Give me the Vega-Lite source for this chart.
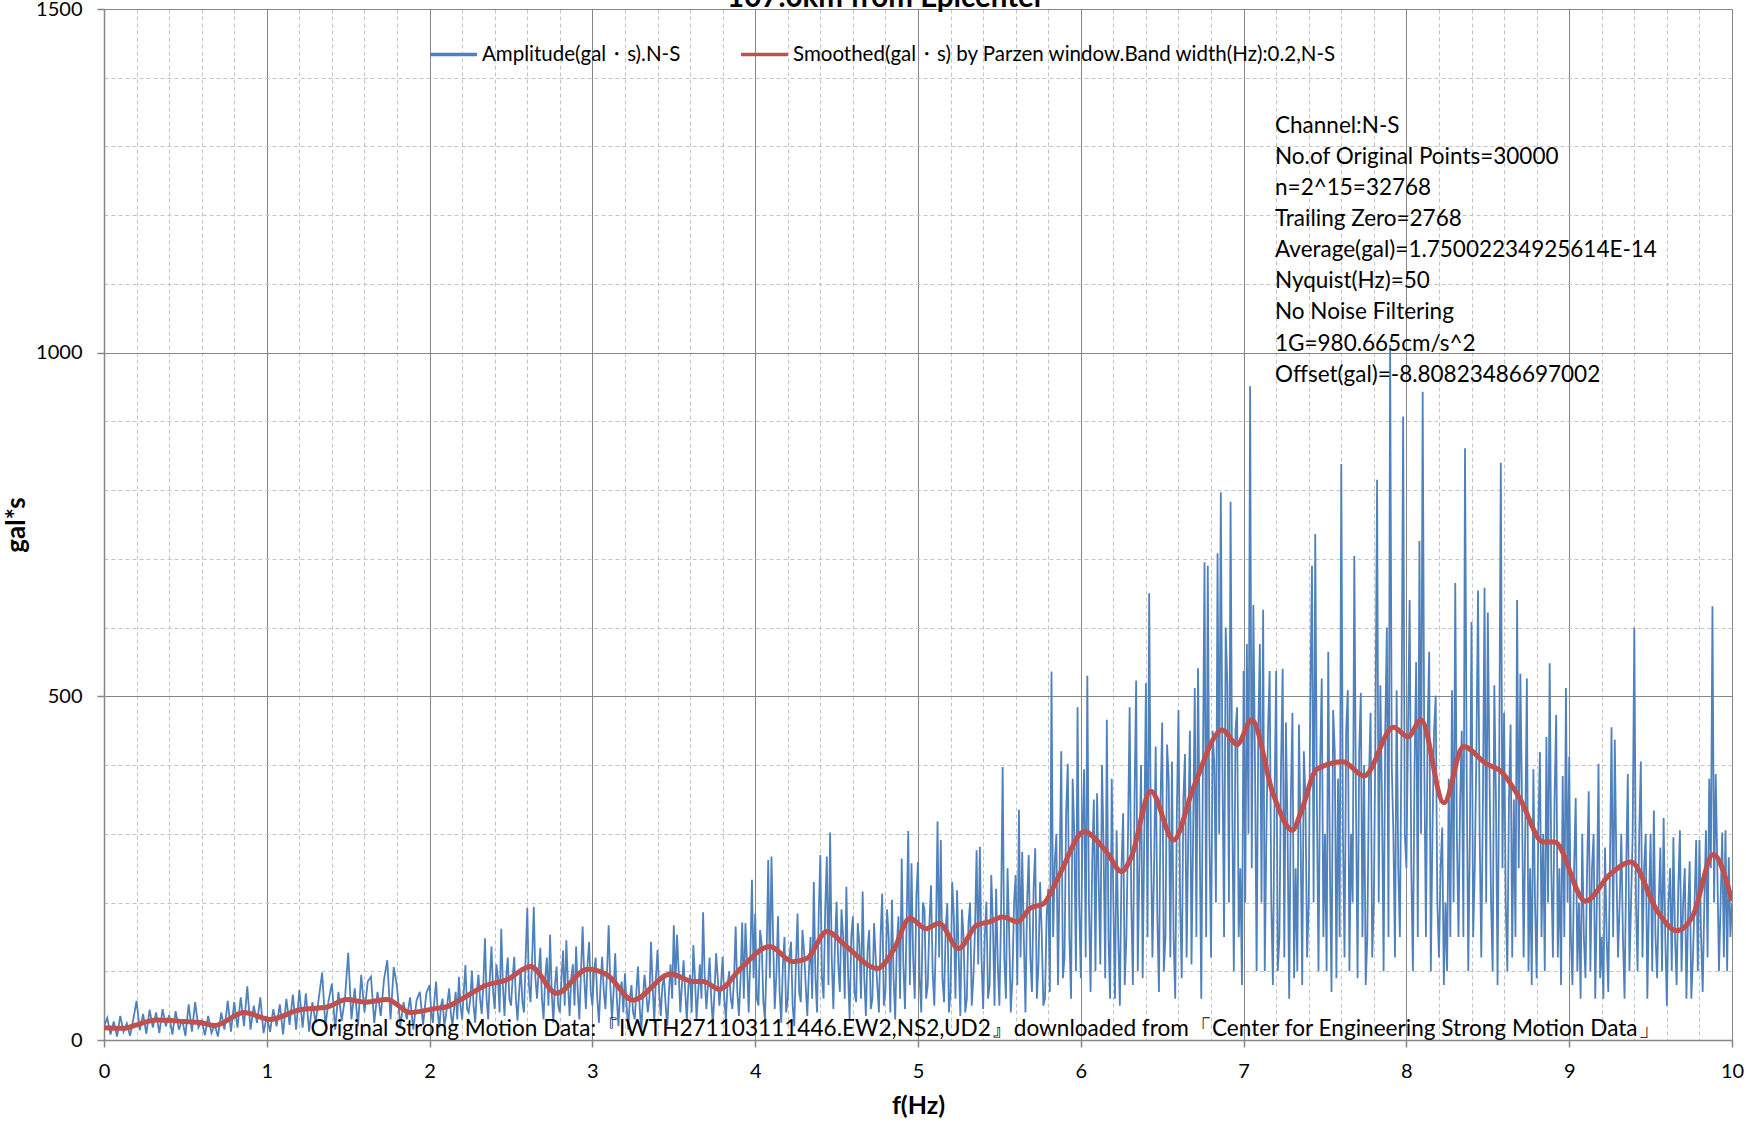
{
"$schema": "https://vega.github.io/schema/vega-lite/v6.json",
"width": 1628, "height": 1031,
"autosize": {"type": "none"},
"padding": {"left": 104, "top": 9, "right": 14, "bottom": 84},
"background": "white",
"config": {"view": {"stroke": "#868686", "strokeWidth": 1}, "font": "Lato"},
"datasets": {
"amp": [
{"f":0,"a":20},{"f":0.02,"a":32},{"f":0.04,"a":8},{"f":0.06,"a":27},{"f":0.08,"a":5},{"f":0.1,"a":35},{"f":0.12,"a":12},{"f":0.14,"a":24},{"f":0.16,"a":6},{"f":0.18,"a":30},
{"f":0.2,"a":57},{"f":0.22,"a":14},{"f":0.24,"a":38},{"f":0.26,"a":9},{"f":0.28,"a":44},{"f":0.3,"a":18},{"f":0.32,"a":40},{"f":0.34,"a":10},{"f":0.36,"a":45},{"f":0.38,"a":20},
{"f":0.4,"a":36},{"f":0.42,"a":8},{"f":0.44,"a":42},{"f":0.46,"a":15},{"f":0.48,"a":30},{"f":0.5,"a":6},{"f":0.52,"a":52},{"f":0.54,"a":12},{"f":0.56,"a":55},{"f":0.58,"a":18},
{"f":0.6,"a":28},{"f":0.62,"a":7},{"f":0.64,"a":35},{"f":0.66,"a":10},{"f":0.68,"a":22},{"f":0.7,"a":5},{"f":0.72,"a":40},{"f":0.74,"a":15},{"f":0.76,"a":57},{"f":0.78,"a":12},
{"f":0.8,"a":55},{"f":0.82,"a":18},{"f":0.84,"a":62},{"f":0.86,"a":20},{"f":0.88,"a":78},{"f":0.9,"a":15},{"f":0.92,"a":50},{"f":0.94,"a":25},{"f":0.96,"a":62},{"f":0.98,"a":10},
{"f":1,"a":35},{"f":1.02,"a":12},{"f":1.04,"a":45},{"f":1.06,"a":20},{"f":1.08,"a":52},{"f":1.1,"a":8},{"f":1.12,"a":60},{"f":1.14,"a":22},{"f":1.16,"a":66},{"f":1.18,"a":15},
{"f":1.2,"a":73},{"f":1.22,"a":18},{"f":1.24,"a":68},{"f":1.26,"a":12},{"f":1.28,"a":55},{"f":1.3,"a":25},{"f":1.32,"a":62},{"f":1.34,"a":98},{"f":1.36,"a":20},{"f":1.38,"a":58},
{"f":1.4,"a":82},{"f":1.42,"a":15},{"f":1.44,"a":70},{"f":1.46,"a":28},{"f":1.48,"a":60},{"f":1.5,"a":127},{"f":1.52,"a":30},{"f":1.54,"a":75},{"f":1.56,"a":20},{"f":1.58,"a":95},
{"f":1.6,"a":40},{"f":1.62,"a":85},{"f":1.64,"a":92},{"f":1.66,"a":25},{"f":1.68,"a":70},{"f":1.7,"a":35},{"f":1.72,"a":88},{"f":1.74,"a":116},{"f":1.76,"a":30},{"f":1.78,"a":106},
{"f":1.8,"a":77},{"f":1.82,"a":20},{"f":1.84,"a":55},{"f":1.86,"a":30},{"f":1.88,"a":62},{"f":1.9,"a":15},{"f":1.92,"a":58},{"f":1.94,"a":70},{"f":1.96,"a":22},{"f":1.98,"a":68},
{"f":2,"a":80},{"f":2.01,"a":40},{"f":2.02,"a":25},{"f":2.03,"a":60},{"f":2.04,"a":85},{"f":2.05,"a":40},{"f":2.06,"a":18},{"f":2.07,"a":50},{"f":2.08,"a":60},{"f":2.09,"a":20},{"f":2.1,"a":35},{"f":2.11,"a":55},{"f":2.12,"a":75},{"f":2.13,"a":40},{"f":2.14,"a":20},{"f":2.15,"a":45},{"f":2.16,"a":70},{"f":2.17,"a":30},{"f":2.18,"a":92},{"f":2.19,"a":50},
{"f":2.2,"a":30},{"f":2.21,"a":70},{"f":2.22,"a":109},{"f":2.23,"a":45},{"f":2.24,"a":40},{"f":2.25,"a":60},{"f":2.26,"a":101},{"f":2.27,"a":50},{"f":2.28,"a":25},{"f":2.29,"a":70},{"f":2.3,"a":95},{"f":2.31,"a":60},{"f":2.32,"a":38},{"f":2.33,"a":80},{"f":2.34,"a":148},{"f":2.35,"a":60},{"f":2.36,"a":30},{"f":2.37,"a":90},{"f":2.38,"a":136},{"f":2.39,"a":70},
{"f":2.4,"a":45},{"f":2.41,"a":110},{"f":2.42,"a":90},{"f":2.43,"a":40},{"f":2.44,"a":162},{"f":2.45,"a":80},{"f":2.46,"a":35},{"f":2.47,"a":90},{"f":2.48,"a":120},{"f":2.49,"a":60},{"f":2.5,"a":50},{"f":2.51,"a":90},{"f":2.52,"a":121},{"f":2.53,"a":60},{"f":2.54,"a":28},{"f":2.55,"a":70},{"f":2.56,"a":105},{"f":2.57,"a":55},{"f":2.58,"a":40},{"f":2.59,"a":120},
{"f":2.6,"a":192},{"f":2.61,"a":80},{"f":2.62,"a":55},{"f":2.63,"a":120},{"f":2.64,"a":194},{"f":2.65,"a":90},{"f":2.66,"a":60},{"f":2.67,"a":100},{"f":2.68,"a":134},{"f":2.69,"a":60},{"f":2.7,"a":30},{"f":2.71,"a":90},{"f":2.72,"a":120},{"f":2.73,"a":50},{"f":2.74,"a":153},{"f":2.75,"a":70},{"f":2.76,"a":25},{"f":2.77,"a":80},{"f":2.78,"a":107},{"f":2.79,"a":50},
{"f":2.8,"a":40},{"f":2.81,"a":90},{"f":2.82,"a":130},{"f":2.83,"a":50},{"f":2.84,"a":145},{"f":2.85,"a":80},{"f":2.86,"a":35},{"f":2.87,"a":90},{"f":2.88,"a":110},{"f":2.89,"a":50},{"f":2.9,"a":136},{"f":2.91,"a":70},{"f":2.92,"a":30},{"f":2.93,"a":100},{"f":2.94,"a":165},{"f":2.95,"a":90},{"f":2.96,"a":45},{"f":2.97,"a":110},{"f":2.98,"a":143},{"f":2.99,"a":70},
{"f":3,"a":50},{"f":3.01,"a":100},{"f":3.02,"a":120},{"f":3.03,"a":60},{"f":3.04,"a":25},{"f":3.05,"a":80},{"f":3.06,"a":121},{"f":3.07,"a":70},{"f":3.08,"a":45},{"f":3.09,"a":100},{"f":3.1,"a":167},{"f":3.11,"a":80},{"f":3.12,"a":30},{"f":3.13,"a":70},{"f":3.14,"a":126},{"f":3.15,"a":60},{"f":3.16,"a":20},{"f":3.17,"a":70},{"f":3.18,"a":85},{"f":3.19,"a":40},
{"f":3.2,"a":97},{"f":3.21,"a":50},{"f":3.22,"a":15},{"f":3.23,"a":60},{"f":3.24,"a":80},{"f":3.25,"a":40},{"f":3.26,"a":30},{"f":3.27,"a":70},{"f":3.28,"a":107},{"f":3.29,"a":50},{"f":3.3,"a":12},{"f":3.31,"a":60},{"f":3.32,"a":95},{"f":3.33,"a":70},{"f":3.34,"a":40},{"f":3.35,"a":60},{"f":3.36,"a":143},{"f":3.37,"a":80},{"f":3.38,"a":25},{"f":3.39,"a":90},
{"f":3.4,"a":131},{"f":3.41,"a":70},{"f":3.42,"a":35},{"f":3.43,"a":80},{"f":3.44,"a":90},{"f":3.45,"a":50},{"f":3.46,"a":20},{"f":3.47,"a":70},{"f":3.48,"a":110},{"f":3.49,"a":60},{"f":3.5,"a":167},{"f":3.51,"a":80},{"f":3.52,"a":153},{"f":3.53,"a":100},{"f":3.54,"a":40},{"f":3.55,"a":80},{"f":3.56,"a":116},{"f":3.57,"a":70},{"f":3.58,"a":28},{"f":3.59,"a":80},
{"f":3.6,"a":95},{"f":3.61,"a":40},{"f":3.62,"a":138},{"f":3.63,"a":90},{"f":3.64,"a":30},{"f":3.65,"a":70},{"f":3.66,"a":110},{"f":3.67,"a":60},{"f":3.68,"a":186},{"f":3.69,"a":90},{"f":3.7,"a":45},{"f":3.71,"a":80},{"f":3.72,"a":120},{"f":3.73,"a":60},{"f":3.74,"a":22},{"f":3.75,"a":70},{"f":3.76,"a":126},{"f":3.77,"a":90},{"f":3.78,"a":50},{"f":3.79,"a":80},
{"f":3.8,"a":121},{"f":3.81,"a":60},{"f":3.82,"a":30},{"f":3.83,"a":80},{"f":3.84,"a":100},{"f":3.85,"a":60},{"f":3.86,"a":45},{"f":3.87,"a":90},{"f":3.88,"a":165},{"f":3.89,"a":70},{"f":3.9,"a":35},{"f":3.91,"a":90},{"f":3.92,"a":171},{"f":3.93,"a":60},{"f":3.94,"a":170},{"f":3.95,"a":110},{"f":3.96,"a":40},{"f":3.97,"a":120},{"f":3.98,"a":233},{"f":3.99,"a":90},
{"f":4,"a":184},{"f":4.01,"a":60},{"f":4.02,"a":50},{"f":4.03,"a":160},{"f":4.04,"a":140},{"f":4.05,"a":55},{"f":4.06,"a":30},{"f":4.07,"a":120},{"f":4.08,"a":262},{"f":4.09,"a":90},{"f":4.1,"a":267},{"f":4.11,"a":150},{"f":4.12,"a":45},{"f":4.13,"a":95},{"f":4.14,"a":180},{"f":4.15,"a":70},{"f":4.16,"a":25},{"f":4.17,"a":110},{"f":4.18,"a":150},{"f":4.19,"a":40},
{"f":4.2,"a":60},{"f":4.21,"a":120},{"f":4.22,"a":143},{"f":4.23,"a":50},{"f":4.24,"a":20},{"f":4.25,"a":110},{"f":4.26,"a":184},{"f":4.27,"a":70},{"f":4.28,"a":55},{"f":4.29,"a":160},{"f":4.3,"a":130},{"f":4.31,"a":80},{"f":4.32,"a":35},{"f":4.33,"a":100},{"f":4.34,"a":150},{"f":4.35,"a":60},{"f":4.36,"a":230},{"f":4.37,"a":90},{"f":4.38,"a":40},{"f":4.39,"a":180},
{"f":4.4,"a":269},{"f":4.41,"a":90},{"f":4.42,"a":60},{"f":4.43,"a":190},{"f":4.44,"a":267},{"f":4.45,"a":80},{"f":4.46,"a":302},{"f":4.47,"a":120},{"f":4.48,"a":45},{"f":4.49,"a":140},{"f":4.5,"a":201},{"f":4.51,"a":110},{"f":4.52,"a":70},{"f":4.53,"a":190},{"f":4.54,"a":150},{"f":4.55,"a":60},{"f":4.56,"a":223},{"f":4.57,"a":100},{"f":4.58,"a":30},{"f":4.59,"a":150},
{"f":4.6,"a":180},{"f":4.61,"a":70},{"f":4.62,"a":55},{"f":4.63,"a":170},{"f":4.64,"a":140},{"f":4.65,"a":60},{"f":4.66,"a":216},{"f":4.67,"a":90},{"f":4.68,"a":35},{"f":4.69,"a":130},{"f":4.7,"a":160},{"f":4.71,"a":45},{"f":4.72,"a":60},{"f":4.73,"a":170},{"f":4.74,"a":120},{"f":4.75,"a":80},{"f":4.76,"a":40},{"f":4.77,"a":150},{"f":4.78,"a":213},{"f":4.79,"a":50},
{"f":4.8,"a":70},{"f":4.81,"a":190},{"f":4.82,"a":150},{"f":4.83,"a":40},{"f":4.84,"a":204},{"f":4.85,"a":90},{"f":4.86,"a":30},{"f":4.87,"a":140},{"f":4.88,"a":180},{"f":4.89,"a":60},{"f":4.9,"a":264},{"f":4.91,"a":110},{"f":4.92,"a":45},{"f":4.93,"a":170},{"f":4.94,"a":304},{"f":4.95,"a":80},{"f":4.96,"a":257},{"f":4.97,"a":120},{"f":4.98,"a":60},{"f":4.99,"a":210},
{"f":5,"a":259},{"f":5.01,"a":90},{"f":5.02,"a":40},{"f":5.03,"a":200},{"f":5.04,"a":190},{"f":5.05,"a":60},{"f":5.06,"a":80},{"f":5.07,"a":170},{"f":5.08,"a":225},{"f":5.09,"a":100},{"f":5.1,"a":50},{"f":5.11,"a":150},{"f":5.12,"a":318},{"f":5.13,"a":120},{"f":5.14,"a":291},{"f":5.15,"a":90},{"f":5.16,"a":55},{"f":5.17,"a":160},{"f":5.18,"a":199},{"f":5.19,"a":40},
{"f":5.2,"a":70},{"f":5.21,"a":230},{"f":5.22,"a":180},{"f":5.23,"a":60},{"f":5.24,"a":218},{"f":5.25,"a":120},{"f":5.26,"a":35},{"f":5.27,"a":190},{"f":5.28,"a":150},{"f":5.29,"a":40},{"f":5.3,"a":60},{"f":5.31,"a":170},{"f":5.32,"a":200},{"f":5.33,"a":50},{"f":5.34,"a":90},{"f":5.35,"a":160},{"f":5.36,"a":276},{"f":5.37,"a":110},{"f":5.38,"a":281},{"f":5.39,"a":120},
{"f":5.4,"a":45},{"f":5.41,"a":150},{"f":5.42,"a":201},{"f":5.43,"a":60},{"f":5.44,"a":80},{"f":5.45,"a":240},{"f":5.46,"a":170},{"f":5.47,"a":50},{"f":5.48,"a":220},{"f":5.49,"a":110},{"f":5.5,"a":50},{"f":5.51,"a":180},{"f":5.52,"a":397},{"f":5.53,"a":120},{"f":5.54,"a":60},{"f":5.55,"a":250},{"f":5.56,"a":155},{"f":5.57,"a":40},{"f":5.58,"a":90},{"f":5.59,"a":200},
{"f":5.6,"a":240},{"f":5.61,"a":80},{"f":5.62,"a":335},{"f":5.63,"a":120},{"f":5.64,"a":274},{"f":5.65,"a":150},{"f":5.66,"a":40},{"f":5.67,"a":200},{"f":5.68,"a":269},{"f":5.69,"a":120},{"f":5.7,"a":70},{"f":5.71,"a":220},{"f":5.72,"a":279},{"f":5.73,"a":60},{"f":5.74,"a":110},{"f":5.75,"a":230},{"f":5.76,"a":155},{"f":5.77,"a":50},{"f":5.78,"a":60},{"f":5.79,"a":180},
{"f":5.8,"a":220},{"f":5.81,"a":70},{"f":5.82,"a":536},{"f":5.83,"a":150},{"f":5.84,"a":257},{"f":5.85,"a":300},{"f":5.86,"a":80},{"f":5.87,"a":250},{"f":5.88,"a":420},{"f":5.89,"a":90},{"f":5.9,"a":120},{"f":5.91,"a":330},{"f":5.92,"a":402},{"f":5.93,"a":150},{"f":5.94,"a":60},{"f":5.95,"a":380},{"f":5.96,"a":300},{"f":5.97,"a":100},{"f":5.98,"a":484},{"f":5.99,"a":200},
{"f":6,"a":90},{"f":6.01,"a":300},{"f":6.02,"a":394},{"f":6.03,"a":120},{"f":6.04,"a":530},{"f":6.05,"a":200},{"f":6.06,"a":70},{"f":6.07,"a":260},{"f":6.08,"a":350},{"f":6.09,"a":100},{"f":6.1,"a":359},{"f":6.11,"a":230},{"f":6.12,"a":110},{"f":6.13,"a":400},{"f":6.14,"a":280},{"f":6.15,"a":90},{"f":6.16,"a":466},{"f":6.17,"a":150},{"f":6.18,"a":60},{"f":6.19,"a":380},
{"f":6.2,"a":200},{"f":6.21,"a":60},{"f":6.22,"a":305},{"f":6.23,"a":150},{"f":6.24,"a":50},{"f":6.25,"a":250},{"f":6.26,"a":330},{"f":6.27,"a":80},{"f":6.28,"a":150},{"f":6.29,"a":300},{"f":6.3,"a":484},{"f":6.31,"a":200},{"f":6.32,"a":80},{"f":6.33,"a":350},{"f":6.34,"a":523},{"f":6.35,"a":100},{"f":6.36,"a":260},{"f":6.37,"a":400},{"f":6.38,"a":90},{"f":6.39,"a":300},
{"f":6.4,"a":519},{"f":6.41,"a":150},{"f":6.42,"a":650},{"f":6.43,"a":300},{"f":6.44,"a":120},{"f":6.45,"a":250},{"f":6.46,"a":427},{"f":6.47,"a":180},{"f":6.48,"a":70},{"f":6.49,"a":350},{"f":6.5,"a":462},{"f":6.51,"a":100},{"f":6.52,"a":150},{"f":6.53,"a":430},{"f":6.54,"a":380},{"f":6.55,"a":120},{"f":6.56,"a":405},{"f":6.57,"a":150},{"f":6.58,"a":60},{"f":6.59,"a":330},
{"f":6.6,"a":480},{"f":6.61,"a":200},{"f":6.62,"a":90},{"f":6.63,"a":350},{"f":6.64,"a":416},{"f":6.65,"a":120},{"f":6.66,"a":300},{"f":6.67,"a":450},{"f":6.68,"a":110},{"f":6.69,"a":300},{"f":6.7,"a":512},{"f":6.71,"a":150},{"f":6.72,"a":541},{"f":6.73,"a":300},{"f":6.74,"a":60},{"f":6.75,"a":400},{"f":6.76,"a":695},{"f":6.77,"a":150},{"f":6.78,"a":690},{"f":6.79,"a":300},
{"f":6.8,"a":120},{"f":6.81,"a":450},{"f":6.82,"a":400},{"f":6.83,"a":200},{"f":6.84,"a":708},{"f":6.85,"a":300},{"f":6.86,"a":797},{"f":6.87,"a":400},{"f":6.88,"a":150},{"f":6.89,"a":600},{"f":6.9,"a":519},{"f":6.91,"a":200},{"f":6.92,"a":783},{"f":6.93,"a":350},{"f":6.94,"a":100},{"f":6.95,"a":450},{"f":6.96,"a":484},{"f":6.97,"a":150},{"f":6.98,"a":250},{"f":6.99,"a":80},
{"f":7,"a":537},{"f":7.01,"a":200},{"f":7.02,"a":576},{"f":7.03,"a":300},{"f":7.04,"a":951},{"f":7.05,"a":250},{"f":7.06,"a":633},{"f":7.07,"a":400},{"f":7.08,"a":100},{"f":7.09,"a":450},{"f":7.1,"a":576},{"f":7.11,"a":200},{"f":7.12,"a":626},{"f":7.13,"a":100},{"f":7.14,"a":300},{"f":7.15,"a":450},{"f":7.16,"a":537},{"f":7.17,"a":200},{"f":7.18,"a":80},{"f":7.19,"a":350},
{"f":7.2,"a":537},{"f":7.21,"a":100},{"f":7.22,"a":150},{"f":7.23,"a":400},{"f":7.24,"a":540},{"f":7.25,"a":120},{"f":7.26,"a":462},{"f":7.27,"a":300},{"f":7.28,"a":60},{"f":7.29,"a":350},{"f":7.3,"a":476},{"f":7.31,"a":90},{"f":7.32,"a":250},{"f":7.33,"a":100},{"f":7.34,"a":459},{"f":7.35,"a":300},{"f":7.36,"a":80},{"f":7.37,"a":420},{"f":7.38,"a":350},{"f":7.39,"a":120},
{"f":7.4,"a":200},{"f":7.41,"a":500},{"f":7.42,"a":690},{"f":7.43,"a":200},{"f":7.44,"a":736},{"f":7.45,"a":350},{"f":7.46,"a":100},{"f":7.47,"a":400},{"f":7.48,"a":526},{"f":7.49,"a":150},{"f":7.5,"a":300},{"f":7.51,"a":100},{"f":7.52,"a":565},{"f":7.53,"a":250},{"f":7.54,"a":70},{"f":7.55,"a":480},{"f":7.56,"a":420},{"f":7.57,"a":90},{"f":7.58,"a":380},{"f":7.59,"a":150},
{"f":7.6,"a":838},{"f":7.61,"a":300},{"f":7.62,"a":120},{"f":7.63,"a":450},{"f":7.64,"a":509},{"f":7.65,"a":100},{"f":7.66,"a":300},{"f":7.67,"a":200},{"f":7.68,"a":704},{"f":7.69,"a":350},{"f":7.7,"a":90},{"f":7.71,"a":420},{"f":7.72,"a":505},{"f":7.73,"a":150},{"f":7.74,"a":400},{"f":7.75,"a":80},{"f":7.76,"a":150},{"f":7.77,"a":380},{"f":7.78,"a":476},{"f":7.79,"a":120},
{"f":7.8,"a":200},{"f":7.81,"a":450},{"f":7.82,"a":815},{"f":7.83,"a":200},{"f":7.84,"a":516},{"f":7.85,"a":350},{"f":7.86,"a":100},{"f":7.87,"a":450},{"f":7.88,"a":600},{"f":7.89,"a":150},{"f":7.9,"a":1011},{"f":7.91,"a":400},{"f":7.92,"a":300},{"f":7.93,"a":120},{"f":7.94,"a":509},{"f":7.95,"a":250},{"f":7.96,"a":150},{"f":7.97,"a":450},{"f":7.98,"a":907},{"f":7.99,"a":300},
{"f":8,"a":250},{"f":8.01,"a":450},{"f":8.02,"a":640},{"f":8.03,"a":250},{"f":8.04,"a":100},{"f":8.05,"a":400},{"f":8.06,"a":550},{"f":8.07,"a":150},{"f":8.08,"a":726},{"f":8.09,"a":300},{"f":8.1,"a":943},{"f":8.11,"a":400},{"f":8.12,"a":150},{"f":8.13,"a":450},{"f":8.14,"a":565},{"f":8.15,"a":100},{"f":8.16,"a":300},{"f":8.17,"a":450},{"f":8.18,"a":501},{"f":8.19,"a":200},
{"f":8.2,"a":120},{"f":8.21,"a":250},{"f":8.22,"a":309},{"f":8.23,"a":80},{"f":8.24,"a":200},{"f":8.25,"a":100},{"f":8.26,"a":380},{"f":8.27,"a":150},{"f":8.28,"a":509},{"f":8.29,"a":200},{"f":8.3,"a":665},{"f":8.31,"a":300},{"f":8.32,"a":150},{"f":8.33,"a":350},{"f":8.34,"a":450},{"f":8.35,"a":150},{"f":8.36,"a":861},{"f":8.37,"a":400},{"f":8.38,"a":100},{"f":8.39,"a":300},
{"f":8.4,"a":608},{"f":8.41,"a":150},{"f":8.42,"a":250},{"f":8.43,"a":420},{"f":8.44,"a":654},{"f":8.45,"a":300},{"f":8.46,"a":120},{"f":8.47,"a":350},{"f":8.48,"a":658},{"f":8.49,"a":200},{"f":8.5,"a":622},{"f":8.51,"a":400},{"f":8.52,"a":200},{"f":8.53,"a":100},{"f":8.54,"a":516},{"f":8.55,"a":350},{"f":8.56,"a":80},{"f":8.57,"a":400},{"f":8.58,"a":840},{"f":8.59,"a":250},
{"f":8.6,"a":476},{"f":8.61,"a":200},{"f":8.62,"a":100},{"f":8.63,"a":350},{"f":8.64,"a":459},{"f":8.65,"a":120},{"f":8.66,"a":350},{"f":8.67,"a":150},{"f":8.68,"a":640},{"f":8.69,"a":250},{"f":8.7,"a":533},{"f":8.71,"a":350},{"f":8.72,"a":120},{"f":8.73,"a":300},{"f":8.74,"a":526},{"f":8.75,"a":100},{"f":8.76,"a":250},{"f":8.77,"a":80},{"f":8.78,"a":394},{"f":8.79,"a":200},
{"f":8.8,"a":90},{"f":8.81,"a":300},{"f":8.82,"a":419},{"f":8.83,"a":150},{"f":8.84,"a":300},{"f":8.85,"a":100},{"f":8.86,"a":441},{"f":8.87,"a":200},{"f":8.88,"a":548},{"f":8.89,"a":250},{"f":8.9,"a":120},{"f":8.91,"a":350},{"f":8.92,"a":473},{"f":8.93,"a":120},{"f":8.94,"a":250},{"f":8.95,"a":80},{"f":8.96,"a":384},{"f":8.97,"a":150},{"f":8.98,"a":512},{"f":8.99,"a":200},
{"f":9,"a":412},{"f":9.01,"a":150},{"f":9.02,"a":80},{"f":9.03,"a":250},{"f":9.04,"a":352},{"f":9.05,"a":100},{"f":9.06,"a":200},{"f":9.07,"a":60},{"f":9.08,"a":300},{"f":9.09,"a":150},{"f":9.1,"a":90},{"f":9.11,"a":250},{"f":9.12,"a":362},{"f":9.13,"a":100},{"f":9.14,"a":250},{"f":9.15,"a":300},{"f":9.16,"a":60},{"f":9.17,"a":200},{"f":9.18,"a":402},{"f":9.19,"a":90},
{"f":9.2,"a":150},{"f":9.21,"a":60},{"f":9.22,"a":280},{"f":9.23,"a":150},{"f":9.24,"a":70},{"f":9.25,"a":250},{"f":9.26,"a":455},{"f":9.27,"a":150},{"f":9.28,"a":437},{"f":9.29,"a":250},{"f":9.3,"a":120},{"f":9.31,"a":200},{"f":9.32,"a":300},{"f":9.33,"a":150},{"f":9.34,"a":60},{"f":9.35,"a":250},{"f":9.36,"a":387},{"f":9.37,"a":100},{"f":9.38,"a":200},{"f":9.39,"a":300},
{"f":9.4,"a":600},{"f":9.41,"a":200},{"f":9.42,"a":100},{"f":9.43,"a":300},{"f":9.44,"a":405},{"f":9.45,"a":120},{"f":9.46,"a":250},{"f":9.47,"a":300},{"f":9.48,"a":60},{"f":9.49,"a":200},{"f":9.5,"a":300},{"f":9.51,"a":100},{"f":9.52,"a":334},{"f":9.53,"a":150},{"f":9.54,"a":90},{"f":9.55,"a":200},{"f":9.56,"a":280},{"f":9.57,"a":100},{"f":9.58,"a":323},{"f":9.59,"a":150},
{"f":9.6,"a":50},{"f":9.61,"a":200},{"f":9.62,"a":250},{"f":9.63,"a":100},{"f":9.64,"a":295},{"f":9.65,"a":150},{"f":9.66,"a":80},{"f":9.67,"a":220},{"f":9.68,"a":305},{"f":9.69,"a":100},{"f":9.7,"a":200},{"f":9.71,"a":250},{"f":9.72,"a":60},{"f":9.73,"a":180},{"f":9.74,"a":260},{"f":9.75,"a":60},{"f":9.76,"a":120},{"f":9.77,"a":200},{"f":9.78,"a":291},{"f":9.79,"a":100},
{"f":9.8,"a":291},{"f":9.81,"a":150},{"f":9.82,"a":70},{"f":9.83,"a":200},{"f":9.84,"a":305},{"f":9.85,"a":120},{"f":9.86,"a":380},{"f":9.87,"a":250},{"f":9.88,"a":631},{"f":9.89,"a":200},{"f":9.9,"a":387},{"f":9.91,"a":250},{"f":9.92,"a":100},{"f":9.93,"a":200},{"f":9.94,"a":302},{"f":9.95,"a":120},{"f":9.96,"a":305},{"f":9.97,"a":100},{"f":9.98,"a":266},{"f":9.99,"a":150},
{"f":10,"a":200}
],
"smooth": [
{"f":0,"s":18},{"f":0.12,"s":17},{"f":0.2,"s":22},{"f":0.32,"s":29},{"f":0.49,"s":27},{"f":0.6,"s":25},{"f":0.68,"s":21},{"f":0.86,"s":40},{"f":1.02,"s":30},{"f":1.2,"s":44},{"f":1.37,"s":48},{"f":1.49,"s":59},{"f":1.61,"s":55},{"f":1.74,"s":59},{"f":1.88,"s":40},{"f":2.04,"s":46},{"f":2.1,"s":48},{"f":2.2,"s":60},{"f":2.35,"s":80},{"f":2.47,"s":87},{"f":2.62,"s":107},{"f":2.78,"s":68},{"f":2.97,"s":103},{"f":3.09,"s":95},{"f":3.25,"s":58},{"f":3.48,"s":96},{"f":3.62,"s":85},{"f":3.68,"s":85},{"f":3.78,"s":74},{"f":3.91,"s":104},{"f":4.09,"s":136},{"f":4.23,"s":114},{"f":4.32,"s":119},{"f":4.44,"s":158},{"f":4.56,"s":136},{"f":4.75,"s":104},{"f":4.85,"s":131},{"f":4.95,"s":177},{"f":5.05,"s":162},{"f":5.13,"s":170},{"f":5.25,"s":133},{"f":5.36,"s":167},{"f":5.44,"s":172},{"f":5.52,"s":179},{"f":5.61,"s":172},{"f":5.69,"s":192},{"f":5.77,"s":198},{"f":5.87,"s":241},{"f":6.02,"s":303},{"f":6.16,"s":273},{"f":6.25,"s":245},{"f":6.31,"s":266},{"f":6.43,"s":362},{"f":6.57,"s":291},{"f":6.69,"s":366},{"f":6.87,"s":451},{"f":6.96,"s":430},{"f":7.05,"s":466},{"f":7.18,"s":359},{"f":7.3,"s":305},{"f":7.35,"s":330},{"f":7.45,"s":394},{"f":7.61,"s":405},{"f":7.74,"s":384},{"f":7.92,"s":455},{"f":8.01,"s":441},{"f":8.09,"s":466},{"f":8.23,"s":345},{"f":8.35,"s":427},{"f":8.49,"s":402},{"f":8.58,"s":391},{"f":8.7,"s":350},{"f":8.84,"s":288},{"f":8.91,"s":288},{"f":9.1,"s":202},{"f":9.25,"s":241},{"f":9.38,"s":259},{"f":9.54,"s":188},{"f":9.66,"s":159},{"f":9.76,"s":181},{"f":9.885,"s":270},{"f":10,"s":202}
]
},
"layer": [
{
"data": {"name": "amp"},
"mark": {"type": "line", "strokeWidth": 1.8, "clip": true},
"encoding": {
"x": {"field": "f", "type": "quantitative", "scale": {"domain": [0, 10], "nice": false, "zero": false},
"axis": {"values": [0,0.2,0.4,0.6,0.8,1,1.2,1.4,1.6,1.8,2,2.2,2.4,2.6,2.8,3,3.2,3.4,3.6,3.8,4,4.2,4.4,4.6,4.8,5,5.2,5.4,5.6,5.8,6,6.2,6.4,6.6,6.8,7,7.2,7.4,7.6,7.8,8,8.2,8.4,8.6,8.8,9,9.2,9.4,9.6,9.8,10],
"tickCount": 200, "tickMinStep": 0.1,
"title": "f(Hz)", "titleFont": "Lato", "titleFontSize": 25, "titleFontWeight": "bold", "titleColor": "black", "titlePadding": 12,
"format": "d", "labelExpr": "datum.value % 1 === 0 ? datum.label : ''",
"labelFont": "Lato", "labelFontSize": 20, "labelColor": "black", "labelPadding": 14, "labelOverlap": false, "labelFlush": false,
"domainColor": "#868686", "domainWidth": 1.5,
"tickColor": "#868686", "tickSize": 7, "tickWidth": 1.5,
"tickOpacity": {"condition": {"test": "datum.value % 1 === 0", "value": 1}, "value": 0},
"grid": true,
"gridColor": {"condition": {"test": "datum.value % 1 === 0", "value": "#868686"}, "value": "#c4c4c4"},
"gridDash": {"condition": {"test": "datum.value % 1 === 0", "value": []}, "value": [4, 3]},
"gridWidth": 1}},
"y": {"field": "a", "type": "quantitative", "scale": {"domain": [0, 1500], "nice": false},
"axis": {"values": [0,100,200,300,400,500,600,700,800,900,1000,1100,1200,1300,1400,1500],
"tickCount": 200,
"title": "gal*s", "titleFont": "Lato", "titleFontSize": 26, "titleFontWeight": "bold", "titleColor": "black", "titlePadding": 6,
"format": "d", "labelExpr": "datum.value % 500 === 0 ? datum.label : ''",
"labelFont": "Lato", "labelFontSize": 20, "labelColor": "black", "labelPadding": 15, "labelOverlap": false, "labelFlush": false,
"domainColor": "#868686", "domainWidth": 1.5,
"tickColor": "#868686", "tickSize": 7, "tickWidth": 1.5,
"tickOpacity": {"condition": {"test": "datum.value % 500 === 0", "value": 1}, "value": 0},
"grid": true,
"gridColor": {"condition": {"test": "datum.value % 500 === 0", "value": "#868686"}, "value": "#c4c4c4"},
"gridDash": {"condition": {"test": "datum.value % 500 === 0", "value": []}, "value": [4, 3]},
"gridWidth": 1}},
"color": {"datum": "Amplitude(gal・s).N-S", "type": "nominal",
"scale": {"domain": ["Amplitude(gal・s).N-S", "Smoothed(gal・s) by Parzen window.Band width(Hz):0.2,N-S"], "range": ["#4F81BD", "#C0504D"]},
"legend": {"title": null, "orient": "none", "direction": "horizontal", "legendX": 324, "legendY": 20,
"symbolType": "stroke", "symbolSize": 2200, "symbolStrokeWidth": 3.5,
"labelFont": "Lato", "labelFontSize": 20.5, "labelColor": "black", "labelLimit": 0, "labelOffset": 3, "columnPadding": 53}}
}
},
{
"data": {"name": "smooth"},
"mark": {"type": "line", "strokeWidth": 5, "interpolate": "monotone", "clip": true},
"encoding": {
"x": {"field": "f", "type": "quantitative"},
"y": {"field": "s", "type": "quantitative"},
"color": {"datum": "Smoothed(gal・s) by Parzen window.Band width(Hz):0.2,N-S", "type": "nominal"}
}
},
{
"data": {"values": [{}]},
"mark": {"type": "text", "align": "left", "baseline": "top", "font": "Lato", "fontSize": 22.5, "lineHeight": 31.1, "color": "black",
"text": ["Channel:N-S", "No.of Original Points=30000", "n=2^15=32768", "Trailing Zero=2768", "Average(gal)=1.75002234925614E-14", "Nyquist(Hz)=50", "No Noise Filtering", "1G=980.665cm/s^2", "Offset(gal)=-8.80823486697002"]},
"encoding": {"x": {"datum": 7.193, "type": "quantitative"}, "y": {"datum": 1346, "type": "quantitative"}}
},
{
"data": {"values": [{}]},
"mark": {"type": "text", "align": "center", "baseline": "alphabetic", "font": "Lato", "fontSize": 22.6, "color": "black",
"text": "Original Strong Motion Data:『IWTH271103111446.EW2,NS2,UD2』downloaded from「Center for Engineering Strong Motion Data」"},
"encoding": {"x": {"datum": 5.415, "type": "quantitative"}, "y": {"datum": 6.4, "type": "quantitative"}}
},
{
"data": {"values": [{}]},
"mark": {"type": "text", "align": "center", "baseline": "alphabetic", "font": "Lato", "fontSize": 29.5, "fontWeight": "bold", "color": "black", "clip": false,
"text": "107.0km from Epicenter"},
"encoding": {"x": {"datum": 4.803, "type": "quantitative"}, "y": {"datum": 1503.5, "type": "quantitative"}}
}
]
}
